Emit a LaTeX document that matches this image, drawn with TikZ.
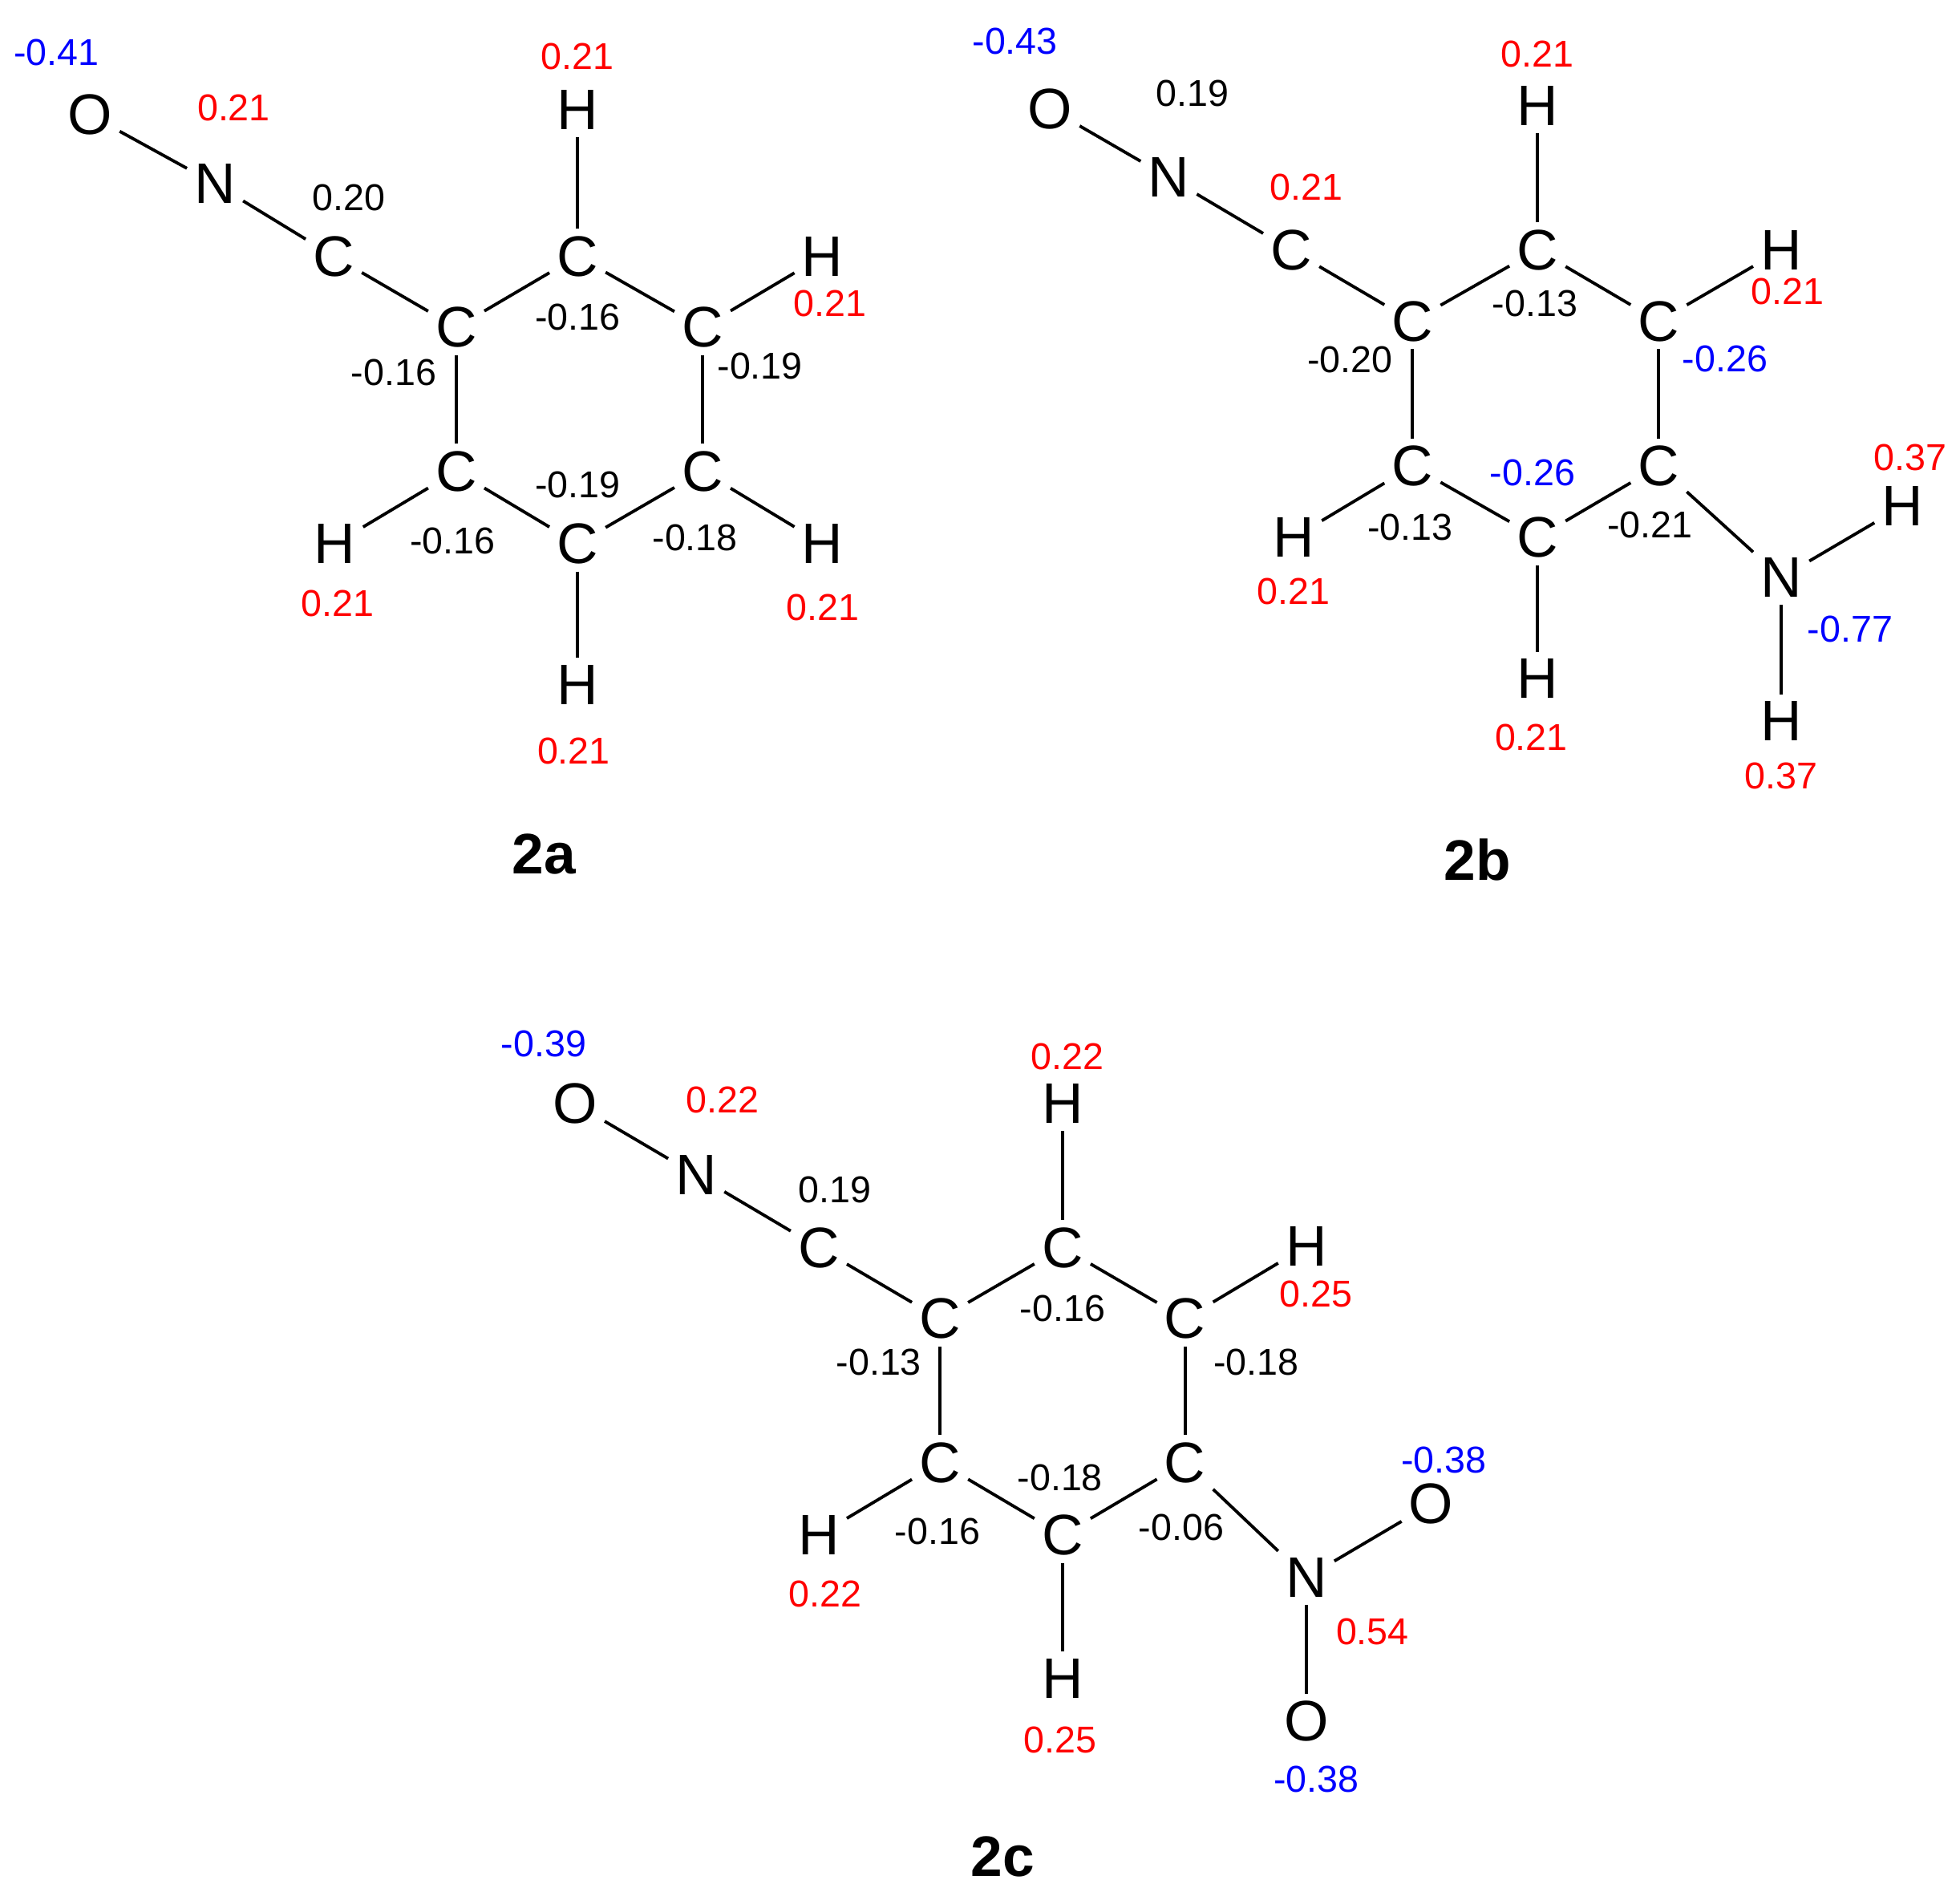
\documentclass[tikz,border=0pt]{standalone}
\usepackage{fontspec}
\setmainfont{Liberation Sans}
\begin{document}
\begin{tikzpicture}[x=0.01cm,y=-0.01cm,
  atom/.style={font=\fontsize{13}{13}\selectfont, inner sep=1.5pt},
  lab/.style={font=\fontsize{8.5}{9}\selectfont, inner sep=0pt},
  bond/.style={line width=0.7pt},
  title/.style={font=\fontsize{13}{13}\selectfont\bfseries}]
\useasboundingbox (0,0) rectangle (1568,1513);
\definecolor{qred}{RGB}{255,0,0}
\definecolor{qblue}{RGB}{0,0,255}
% ---------- 2a
\foreach \n/\x/\y/\t in {aO/72/92/O,aN/172/147/N,aC/267/205/C,a1/365/262/C,a2/462/205/C,a3/562/262/C,a4/562/377/C,a5/462/435/C,a6/365/377/C,aH2/462/88/H,aH3/658/205/H,aH4/658/435/H,aH5/462/548/H,aH6/268/435/H}
  \node[atom] (\n) at (\x,\y) {\t};
\foreach \a/\b in {aO/aN,aN/aC,aC/a1,a1/a2,a2/a3,a3/a4,a4/a5,a5/a6,a6/a1,a2/aH2,a3/aH3,a4/aH4,a5/aH5,a6/aH6}
  \draw[bond] (\a)--(\b);
% ---------- 2b
\foreach \n/\x/\y/\t in {bO/840/87/O,bN/935/142/N,bC/1033/200/C,b1/1130/257/C,b2/1230/200/C,b3/1327/257/C,b4/1327/373/C,b5/1230/430/C,b6/1130/373/C,bH2/1230/85/H,bH3/1425/200/H,bH6/1035/430/H,bH5/1230/543/H,bNN/1425/462/N,bHa/1522/405/H,bHb/1425/577/H}
  \node[atom] (\n) at (\x,\y) {\t};
\foreach \a/\b in {bO/bN,bN/bC,bC/b1,b1/b2,b2/b3,b3/b4,b4/b5,b5/b6,b6/b1,b2/bH2,b3/bH3,b6/bH6,b5/bH5,b4/bNN,bNN/bHa,bNN/bHb}
  \draw[bond] (\a)--(\b);
% ---------- 2c
\foreach \n/\x/\y/\t in {cO/460/883/O,cN/557/940/N,cC/655/998/C,c1/752/1055/C,c2/850/998/C,c3/948/1055/C,c4/948/1170/C,c5/850/1228/C,c6/752/1170/C,cH2/850/883/H,cH3/1045/997/H,cH6/655/1228/H,cH5/850/1343/H,cNN/1045/1262/N,cOa/1145/1203/O,cOb/1045/1377/O}
  \node[atom] (\n) at (\x,\y) {\t};
\foreach \a/\b in {cO/cN,cN/cC,cC/c1,c1/c2,c2/c3,c3/c4,c4/c5,c5/c6,c6/c1,c2/cH2,c3/cH3,c6/cH6,c5/cH5,c4/cNN,cNN/cOa,cNN/cOb}
  \draw[bond] (\a)--(\b);
% ---------- labels
\foreach \n/\x/\y/\t/\c in {
  la1/45/42/-0.41/qblue, la2/187/86/0.21/qred, la3/279/158/0.20/black, la4/462/45/0.21/qred,
  la5/664/243/0.21/qred, la6/462/254/-0.16/black, la7/608/293/-0.19/black, la8/315/298/-0.16/black,
  la9/462/388/-0.19/black, la10/362/433/-0.16/black, la11/556/430/-0.18/black, la12/270/483/0.21/qred,
  la13/658/486/0.21/qred, la14/459/601/0.21/qred,
  lb1/812/33/-0.43/qblue, lb2/954/75/0.19/black, lb3/1045/150/0.21/qred, lb4/1230/43/0.21/qred,
  lb5/1430/233/0.21/qred, lb6/1228/243/-0.13/black, lb7/1380/287/-0.26/qblue, lb8/1080/288/-0.20/black,
  lb9/1226/378/-0.26/qblue, lb10/1128/422/-0.13/black, lb11/1320/420/-0.21/black, lb12/1528/366/0.37/qred,
  lb13/1480/503/-0.77/qblue, lb14/1035/473/0.21/qred, lb15/1225/590/0.21/qred, lb16/1425/621/0.37/qred,
  lc1/435/835/-0.39/qblue, lc2/578/880/0.22/qred, lc3/668/952/0.19/black, lc4/854/845/0.22/qred,
  lc5/1053/1035/0.25/qred, lc6/850/1047/-0.16/black, lc7/1005/1090/-0.18/black, lc8/703/1090/-0.13/black,
  lc9/848/1182/-0.18/black, lc10/750/1225/-0.16/black, lc11/945/1222/-0.06/black, lc12/1155/1168/-0.38/qblue,
  lc13/1098/1305/0.54/qred, lc14/660/1275/0.22/qred, lc15/848/1392/0.25/qred, lc16/1053/1423/-0.38/qblue}
  \node[lab,text=\c] (\n) at (\x,\y) {\t};
\node[title] (ta) at (435,683) {2a};
\node[title] (tb) at (1182,688) {2b};
\node[title] (tc) at (802,1485) {2c};
\end{tikzpicture}
\end{document}
